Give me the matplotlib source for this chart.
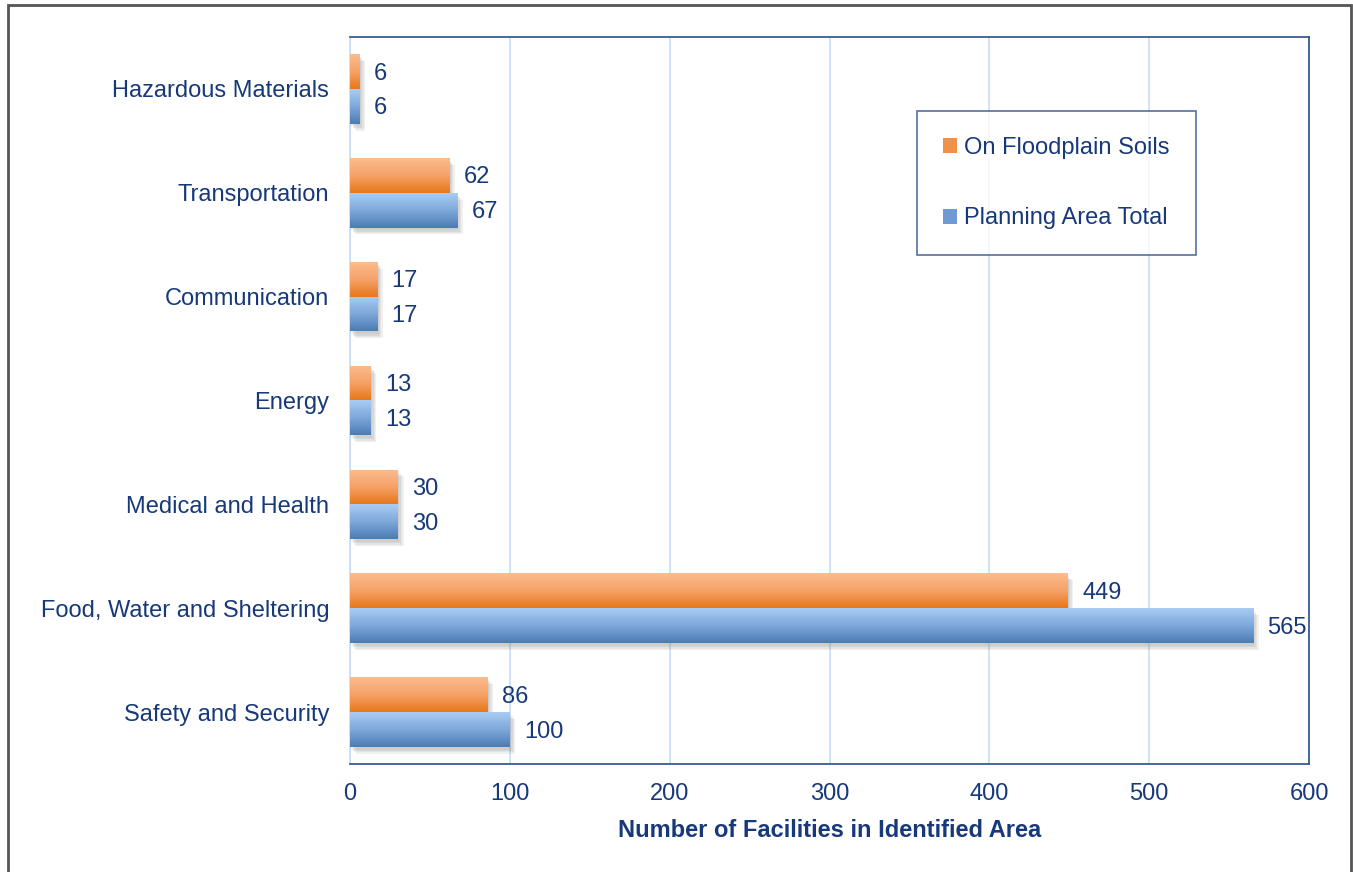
import numpy as np
import matplotlib.pyplot as plt
import matplotlib.patheffects as pe
from matplotlib.colors import LinearSegmentedColormap
from matplotlib.patches import Rectangle

plt.rcParams['font.family'] = ['Liberation Sans', 'DejaVu Sans']

# data (bottom to top)
categories = ['Safety and Security', 'Food, Water and Sheltering', 'Medical and Health',
              'Energy', 'Communication', 'Transportation', 'Hazardous Materials']
floodplain = [86, 449, 30, 13, 17, 62, 6]
planning_total = [100, 565, 30, 13, 17, 67, 6]
xticks = [0, 100, 200, 300, 400, 500, 600]

text_col = '#17397A'
fs = 17
orange_cmap = LinearSegmentedColormap.from_list('or', ['#E8781A', '#F5A268', '#FCBC8E'])
blue_cmap = LinearSegmentedColormap.from_list('bl', ['#4A7DB3', '#7EA8DA', '#A8CCF3'])

fig = plt.figure(figsize=(13.53, 8.72), dpi=100)
ax = fig.add_axes([0.2587, 0.1239, 0.9675 - 0.2587, 0.9576 - 0.1239])

h = 0.335
y = np.arange(len(categories))
grad = np.linspace(0, 1, 64).reshape(-1, 1)

# soft shadow built from a few faint offset copies
shadow = [pe.SimplePatchShadow(offset=(o, -o - 1), shadow_rgbFace='#888888', alpha=0.12)
          for o in (1, 2, 3, 4)]


def gradient_bars(ypos, vals, cmap):
    bars = ax.barh(ypos, vals, height=h, color=cmap(0.5), zorder=3,
                   path_effects=shadow + [pe.Normal()])
    for b, v in zip(bars, vals):
        y0 = b.get_y()
        im = ax.imshow(grad, cmap=cmap, extent=(0, v, y0, y0 + h), origin='lower',
                       aspect='auto', zorder=4, interpolation='bilinear')
        im.set_clip_path(b)
    return bars


gradient_bars(y + h / 2, floodplain, orange_cmap)
gradient_bars(y - h / 2, planning_total, blue_cmap)

for i in range(len(categories)):
    ax.text(floodplain[i] + 9, y[i] + h / 2 - 0.02, str(floodplain[i]), va='center', ha='left',
            fontsize=fs, color=text_col, zorder=5)
    ax.text(planning_total[i] + 9, y[i] - h / 2 - 0.02, str(planning_total[i]), va='center', ha='left',
            fontsize=fs, color=text_col, zorder=5)

ax.set_xlim(0, 600)
ax.set_ylim(-0.5, len(categories) - 0.5)
ax.set_xticks(xticks)
ax.set_yticks(y)
ax.set_yticklabels(categories)
ax.tick_params(length=0, labelsize=fs, colors=text_col)
ax.tick_params(axis='y', pad=15)
ax.tick_params(axis='x', pad=14)
ax.grid(axis='x', color='#C6DDF6', linewidth=1.2, zorder=0)
ax.set_axisbelow(True)
for s in ['top', 'right', 'bottom']:
    ax.spines[s].set_color('#2A4F8A')
    ax.spines[s].set_linewidth(1.2)
ax.spines['left'].set_color('#C6DDF6')
ax.spines['left'].set_linewidth(1.2)

ax.set_xlabel('Number of Facilities in Identified Area', fontsize=fs, fontweight='bold',
              color=text_col, labelpad=10)

handles = [Rectangle((0, 0), 1, 1, facecolor='#F0914A'), Rectangle((0, 0), 1, 1, facecolor='#6E9CD2')]
leg = fig.legend(handles, ['On Floodplain Soils', 'Planning Area Total'],
                 loc='upper left', bbox_to_anchor=(917 / 1353, 1 - 111 / 872),
                 fontsize=fs, frameon=True, fancybox=False, labelspacing=2.05,
                 handlelength=0.6, handleheight=0.6, handletextpad=0.3,
                 borderpad=1.1, borderaxespad=0, labelcolor=text_col)
leg.get_frame().set_edgecolor('#2A4F8A')
leg.get_frame().set_linewidth(1.2)

# outer figure frame
fig.patches.append(Rectangle((8 / 1353, -0.1), (1351 - 8) / 1353, 1.1 - 5 / 872,
                             transform=fig.transFigure, fill=False, edgecolor='#555555',
                             linewidth=2))

fig.savefig('out.png', dpi=100)
